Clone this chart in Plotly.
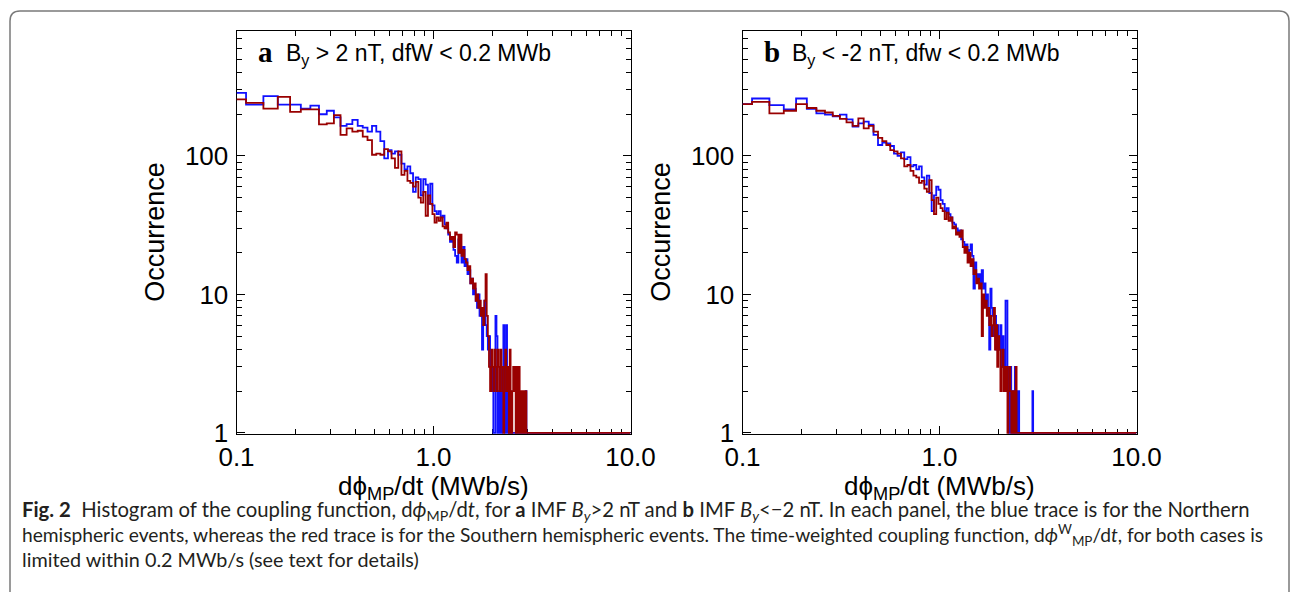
import numpy as np
import plotly.graph_objects as go

# ---------------- data (histogram counts, bin centres 0.1 + 0.025*k MWb/s) ----------------
BIN_START = 0.1
BIN_WIDTH = 0.025
X_END = 10.0

# panel a : By > 2 nT
a_north = [285, 235, 270, 235, 235, 220, 231, 200, 212, 190,
           165, 170, 182, 165, 160, 150, 165, 150, 128, 96,
           110, 104, 108, 102, 88, 80, 84, 75, 55, 70,
           68, 52, 68, 62, 45, 63, 44, 40, 38, 40,
           36, 37, 32, 30, 27, 24, 26, 21, 19, 17,
           25, 20, 17, 22, 16, 18, 14, 15, 12, 13,
           10, 11, 9, 8, 10, 7, 8, 4, 6, 9,
           6, 5, 4, 5, 3, 2, 3, 1, 1, 7,
           5, 1, 2, 1, 3, 1, 2, 6, 3, 1,
           6, 2, 1, 0, 2, 1, 0, 1, 0, 1,
           1, 0, 0, 1, 2, 0, 1, 0, 0, 1,
           0, 0, 1, 0, 2, 0, 0, 0, 0, 0]
a_south = [256, 242, 220, 267, 208, 217, 217, 169, 172, 197,
           142, 158, 150, 152, 138, 130, 102, 104, 102, 112,
           108, 96, 82, 108, 73, 78, 66, 64, 60, 65,
           50, 46, 55, 37, 52, 45, 38, 33, 36, 34,
           36, 31, 30, 33, 28, 25, 26, 22, 28, 27,
           20, 27, 19, 21, 18, 17, 15, 16, 12, 13,
           11, 12, 9, 10, 8, 9, 7, 8, 6, 9,
           14, 7, 5, 3, 2, 4, 3, 2, 4, 3,
           2, 4, 3, 2, 4, 3, 2, 1, 3, 4,
           2, 3, 2, 1, 4, 2, 1, 2, 3, 2,
           3, 1, 3, 2, 1, 3, 2, 1, 2, 2,
           1, 2, 1, 2, 2, 0, 0, 0, 0, 0]

# panel b : By < -2 nT
b_north = [237, 260, 233, 217, 260, 219, 203, 199, 193, 199,
           184, 163, 172, 177, 168, 142, 120, 125, 123, 118,
           104, 100, 106, 95, 98, 84, 86, 80, 84, 70,
           62, 72, 54, 40, 52, 60, 57, 48, 45, 40,
           42, 38, 36, 33, 32, 30, 28, 29, 25, 24,
           22, 23, 20, 21, 23, 19, 11, 17, 14, 13,
           14, 12, 15, 11, 12, 9, 10, 8, 4, 11,
           8, 7, 5, 7, 4, 6, 5, 4, 6, 3,
           5, 4, 3, 9, 9, 2, 3, 1, 3, 2,
           1, 2, 1, 3, 1, 2, 0, 2, 0, 0,
           0, 0, 0, 0, 0, 0, 0, 0, 0, 0,
           0, 0, 0, 0, 0, 2, 0, 0, 0, 0]
b_south = [237, 246, 203, 212, 237, 222, 212, 206, 195, 185,
           175, 165, 187, 158, 165, 150, 135, 128, 120, 110,
           108, 104, 96, 84, 86, 78, 72, 70, 64, 66,
           58, 55, 67, 48, 38, 50, 45, 42, 40, 35,
           39, 34, 36, 30, 31, 27, 28, 26, 29, 22,
           20, 22, 17, 20, 16, 18, 14, 15, 12, 13,
           11, 12, 5, 10, 8, 9, 7, 8, 6, 7,
           5, 6, 8, 4, 6, 3, 5, 4, 2, 3,
           4, 2, 3, 2, 3, 1, 2, 3, 2, 1,
           2, 1, 2, 1, 3, 1, 0, 0, 0, 0,
           0, 0, 0, 0, 0, 0, 0, 0, 0, 0,
           0, 0, 0, 0, 0, 0, 0, 0, 0, 0]

x_tick_vals = [0.1, 1.0, 10.0]
x_tick_text = ["0.1", "1.0", "10.0"]
y_tick_vals = [1, 10, 100]
y_tick_text = ["1", "10", "100"]
x_minor = [0.2, 0.3, 0.4, 0.5, 0.6, 0.7, 0.8, 0.9, 2, 3, 4, 5, 6, 7, 8, 9]
y_minor = [2, 3, 4, 5, 6, 7, 8, 9, 20, 30, 40, 50, 60, 70, 80, 90,
           200, 300, 400, 500, 600, 700, 800]
panel_titles = ["B<sub>y</sub> &gt; 2 nT, dfW &lt; 0.2 MWb",
                "B<sub>y</sub> &lt; -2 nT, dfw &lt; 0.2 MWb"]
panel_letters = ["a", "b"]

# ---------------- layout geometry (pixels) ----------------
W, H = 1293, 592
def px(x):
    return x / W
def py(y):
    return 1 - y / H

PLOT_TOP, PLOT_BOT = 30.5, 434.0
PANELS = [(236.5, 630.5), (742.5, 1136.5)]
Y_BOT_LOG = -0.008
Y_TOP_LOG = 2.906

BLUE = "#1010ff"
RED = "#990000"
AX_FONT = "Liberation Sans, Arial, sans-serif"


def hist_xy(counts):
    n_total = int(round((X_END - BIN_START) / BIN_WIDTH)) + 1
    c = np.zeros(n_total)
    c[:len(counts)] = counts
    x = BIN_START + BIN_WIDTH * np.arange(n_total)
    # zero / one counts sit on the bottom of the log axis
    return x, np.maximum(c, 1)


fig = go.Figure()
series = [(a_north, a_south), (b_north, b_south)]
for i, (north, south) in enumerate(series):
    xa = "x" if i == 0 else "x2"
    ya = "y" if i == 0 else "y2"
    for counts, col in ((north, BLUE), (south, RED)):
        x, y = hist_xy(counts)
        fig.add_trace(go.Scatter(x=x, y=y, mode="lines", xaxis=xa, yaxis=ya,
                                 line=dict(color=col, width=1.8, shape="hvh"),
                                 showlegend=False, hoverinfo="skip"))

axis_common = dict(type="log", showline=True, linecolor="black", linewidth=1,
                   mirror="ticks", ticks="inside", ticklen=8, tickwidth=1,
                   tickcolor="black", showgrid=False, zeroline=False,
                   tickfont=dict(family=AX_FONT, size=26, color="black"),
                   automargin=False, layer="below traces")

layout = dict(width=W, height=H, margin=dict(l=0, r=0, t=0, b=0),
              paper_bgcolor="white", plot_bgcolor="white", showlegend=False)
for i, (x0, x1) in enumerate(PANELS):
    sfx = "" if i == 0 else "2"
    layout["xaxis" + sfx] = dict(axis_common, domain=[px(x0), px(x1)], range=[-1, 1],
                                 anchor="y" + sfx, tickmode="array",
                                 tickvals=x_tick_vals, ticktext=x_tick_text,
                                 ticklabelstandoff=0,
                                 minor=dict(tickmode="array", tickvals=x_minor,
                                            ticks="inside", ticklen=5, tickwidth=1,
                                            tickcolor="black", showgrid=False))
    layout["yaxis" + sfx] = dict(axis_common, domain=[py(PLOT_BOT), py(PLOT_TOP)],
                                 range=[Y_BOT_LOG, Y_TOP_LOG], anchor="x" + sfx,
                                 tickmode="array", tickvals=y_tick_vals,
                                 ticktext=y_tick_text, ticklabelstandoff=2,
                                 minor=dict(tickmode="array", tickvals=y_minor,
                                            ticks="inside", ticklen=5, tickwidth=1,
                                            tickcolor="black", showgrid=False))
fig.update_layout(**layout)

ann = []
for i, (x0, x1) in enumerate(PANELS):
    # y title
    ann.append(dict(text="Occurrence", x=px(x0 - 81), y=py((PLOT_TOP + PLOT_BOT) / 2),
                    xref="paper", yref="paper", showarrow=False, textangle=-90,
                    xanchor="center", yanchor="middle",
                    font=dict(family=AX_FONT, size=27, color="black")))
    # x title
    ann.append(dict(text="dϕ<sub>MP</sub>/dt (MWb/s)", x=px((x0 + x1) / 2), y=py(487),
                    xref="paper", yref="paper", showarrow=False,
                    xanchor="center", yanchor="middle",
                    font=dict(family=AX_FONT, size=26, color="black")))
    # panel letter + title
    ann.append(dict(text="<b>" + panel_letters[i] + "</b>", x=px(x0 + 19), y=py(52),
                    xref="paper", yref="paper", showarrow=False,
                    xanchor="left", yanchor="middle",
                    font=dict(family="Liberation Serif, Times New Roman, serif",
                              size=29, color="black")))
    ann.append(dict(text=panel_titles[i], x=px(x0 + 47), y=py(54),
                    xref="paper", yref="paper", showarrow=False,
                    xanchor="left", yanchor="middle",
                    font=dict(family=AX_FONT, size=23, color="black")))

caption_lines = [
    "<b>Fig. 2</b>  Histogram of the coupling function, d<i>ϕ</i><sub>MP</sub>/d<i>t</i>, for "
    "<b>a</b> IMF <i>B<sub>y</sub></i>&gt;2 nT and <b>b</b> IMF <i>B<sub>y</sub></i>&lt;−2 nT. "
    "In each panel, the blue trace is for the Northern",
    "hemispheric events, whereas the red trace is for the Southern hemispheric events. "
    "The time-weighted coupling function, d<i>ϕ</i><sup>W</sup><sub>MP</sub>/d<i>t</i>, "
    "for both cases is",
    "limited within 0.2 MWb/s (see text for details)",
]
caption_sizes = [20.3, 19.2, 19.8]
for j, line in enumerate(caption_lines):
    ann.append(dict(text=line, x=px(20), y=py(510 + 24.5 * j), xref="paper", yref="paper",
                    showarrow=False, xanchor="left", yanchor="middle",
                    font=dict(family="Lato, Noto Sans, sans-serif", size=caption_sizes[j],
                              color="#231f20")))
fig.update_layout(annotations=ann)

# rounded outer frame of the figure panel
r = 10
path = (f"M {px(10)},{py(600)} L {px(10)},{py(11 + r)} Q {px(10)},{py(11)} {px(10 + r)},{py(11)} "
        f"L {px(1289 - r)},{py(11)} Q {px(1289)},{py(11)} {px(1289)},{py(11 + r)} "
        f"L {px(1289)},{py(600)}")
fig.add_shape(type="path", path=path, xref="paper", yref="paper",
              line=dict(color="#7a7a7a", width=1.5))

fig.write_html("out.html",
               config={"displayModeBar": False, "staticPlot": True},
               post_script="document.body.style.margin='0px';"
                           "document.body.style.overflow='hidden';")
